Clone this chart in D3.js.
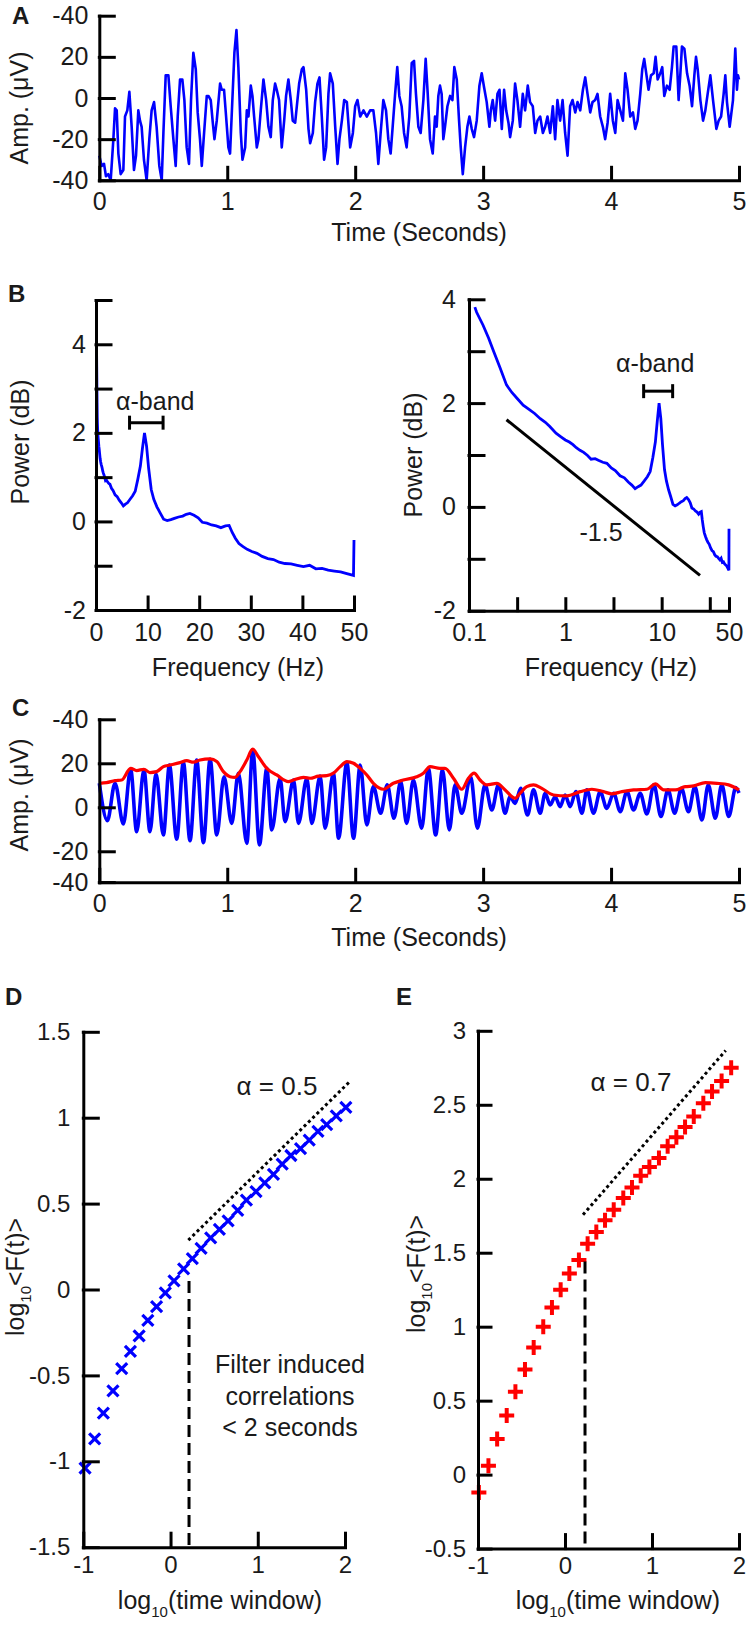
<!DOCTYPE html>
<html>
<head>
<meta charset="utf-8">
<script src="https://cdn.jsdelivr.net/npm/d3@7"></script>
<style>
  body { margin: 0; background: #fff; }
  text { font-family: "Liberation Sans", Arial, sans-serif; fill: #1a1a1a; }
</style>
</head>
<body>
<script>
// ---- panel A: raw EEG trace (s, uV)
var eegTime = [0,0.018,0.037,0.052,0.070,0.089,0.110,0.123,0.136,0.149,0.167,0.188,0.201,0.219,0.235,0.253,0.271,0.287,0.305,0.318,0.331,0.349,0.370,0.391,0.409,0.428,0.448,0.469,0.488,0.501,0.519,0.540,0.558,0.579,0.597,0.613,0.631,0.649,0.665,0.683,0.701,0.717,0.735,0.754,0.769,0.787,0.801,0.819,0.840,0.853,0.871,0.887,0.900,0.918,0.944,0.957,0.975,0.991,1.009,1.022,1.040,1.056,1.072,1.087,1.106,1.119,1.140,1.153,1.166,1.184,1.197,1.210,1.231,1.244,1.262,1.283,1.304,1.322,1.340,1.356,1.374,1.387,1.405,1.426,1.445,1.460,1.478,1.497,1.512,1.531,1.544,1.562,1.583,1.596,1.617,1.635,1.648,1.669,1.687,1.705,1.721,1.739,1.757,1.773,1.791,1.804,1.825,1.844,1.862,1.877,1.896,1.914,1.935,1.961,1.982,2.000,2.018,2.039,2.065,2.091,2.117,
  2.142,2.163,2.181,2.199,2.220,2.241,2.259,2.277,2.293,2.311,2.329,2.345,2.363,2.382,2.402,2.423,2.442,2.460,2.475,2.494,2.512,2.533,2.551,2.567,2.585,2.606,2.624,2.637,2.650,2.663,2.676,2.689,2.702,2.721,2.742,2.760,2.775,2.794,2.812,2.825,2.841,2.859,2.877,2.893,2.911,2.929,2.950,2.971,2.989,3.008,3.028,3.049,3.060,3.075,3.094,3.112,3.128,3.146,3.164,3.180,3.198,3.211,3.232,3.250,3.268,3.289,3.310,3.328,3.349,3.367,3.388,3.407,3.425,3.446,3.467,3.485,3.503,3.524,3.545,3.563,3.581,3.602,3.621,3.641,3.660,3.680,3.699,3.720,3.738,3.759,3.780,3.798,3.816,3.837,3.855,3.876,3.894,3.915,3.936,3.954,3.973,3.993,4.014,4.033,4.051,4.072,4.093,4.111,4.129,4.150,4.171,4.189,4.207,4.228,4.244,4.259,4.275,4.293,4.312,4.333,4.348,4.364,4.385,4.400,4.416,4.437,4.458,4.476,4.489,4.510,4.528,4.541,4.554,4.573,4.594,4.614,4.633,4.651,4.664,4.677,4.698,4.719,4.737,4.755,4.776,4.797,4.823,4.841,4.860,4.880,4.893,4.906,4.927,4.953,4.971,4.984,4.992,5.0];
var eegAmp = [-28,-33,-32,-38,-37,-40,-20,-5,-6,-27,-37,-35,-9,-6,3,-14,-35,-28,-6,-11,-14,-30,-40,-20,-6,-2,-14,-33,-40,-17,11,11,-4,-20,-33,-9,9,9,-1,-24,-32,-1,22,14,-7,-20,-33,-17,1,1,-1,-12,-20,-11,7,4,4,-9,-24,-27,-1,22,33,15,-17,-30,-24,-6,-9,6,1,-9,-24,-20,-6,9,-1,-14,-19,-1,7,4,-1,-24,-11,1,9,-1,-11,-12,-4,7,14,15,4,-15,-22,-17,-2,7,10,-9,-30,-24,2,12,7,-14,-32,-20,-11,-1,-2,-24,-17,-4,-1,-9,-6,-9,-6,
  -6,-17,-32,-17,-1,-6,-20,-27,-14,1,15,1,-4,-17,-24,-9,17,18,2,-14,-17,-1,19,2,-20,-27,-9,-14,1,6,2,-20,-14,-4,1,-1,15,9,-11,-24,-37,-24,-14,-9,-15,-19,-11,6,12,5,-2,-14,-6,-1,-11,2,4,-15,4,-6,-12,-19,-11,7,-1,-14,2,-6,6,-2,-4,-17,-11,-9,-17,-14,-9,-17,-4,-20,-1,-11,-1,-17,-28,-4,-1,-7,-2,-6,4,10,2,-7,-2,-1,2,-9,-14,-20,-12,2,-11,-17,-1,-6,-11,12,4,-9,-7,-15,-11,2,14,19,12,4,11,12,20,9,12,15,1,6,4,15,25,25,-1,11,25,24,12,6,-4,11,20,14,-1,-11,-6,2,11,-1,-15,-11,-9,2,11,-2,-14,-1,24,4,11,9];
var timeTicks = [0, 1, 2, 3, 4, 5];
var ampTicks = [-40, -20, 0, 20, 40];
var ampTickLabels = ["-40", "-20", "0", "20", "-40"];

// ---- panel B: power spectrum
var psdFreq = [0.115,0.12,0.14,0.16,0.18,0.21,0.245,0.28,0.32,0.365,0.42,0.48,0.55,0.62,0.69,0.8,0.9,1.0,1.1,1.2,1.3,1.42,1.55,1.7,1.85,2.04,2.2,2.45,2.7,3.0,3.3,3.7,4.1,4.5,4.9,5.3,5.7,6.1,6.6,7.1,7.6,8.1,8.6,9.0,9.4,9.8,10.2,10.7,11.2,11.8,12.4,13.1,13.8,14.5,15.2,16.0,16.8,17.5,18.2,19.0,19.8,20.6,21.5,22.4,23.3,24.2,25.1,25.8,26.4,27.0,27.7,28.5,29.3,30.2,31.2,32.2,33.3,34.4,35.5,36.6,37.8,39.0,40.2,41.4,42.6,43.8,45.0,46.2,47.4,48.6,49.9,50.0];
var psdPower = [3.85,3.75,3.5,3.25,3.0,2.68,2.35,2.2,2.08,1.96,1.88,1.8,1.7,1.63,1.55,1.42,1.35,1.29,1.25,1.2,1.14,1.09,1.05,0.99,0.92,0.93,0.9,0.86,0.84,0.75,0.7,0.6,0.56,0.48,0.42,0.35,0.39,0.42,0.5,0.58,0.68,0.95,1.25,1.65,2.0,1.7,1.2,0.72,0.5,0.33,0.2,0.05,0.02,0.04,0.07,0.1,0.12,0.16,0.18,0.14,0.08,-0.02,-0.04,-0.08,-0.1,-0.14,-0.1,-0.09,-0.25,-0.38,-0.5,-0.57,-0.63,-0.68,-0.72,-0.79,-0.84,-0.86,-0.92,-0.95,-0.96,-0.99,-1.02,-0.99,-1.07,-1.06,-1.1,-1.12,-1.14,-1.18,-1.22,-0.42];
var alphaBand = [6.5, 13];
var alphaBarPower = 2.23;
var slopeFreq = [0.245, 25];
var slopePower = [1.68, -1.32];
var linFreqTicks = [0, 10, 20, 30, 40, 50];
var logFreqTicks = [0.1, 0.316, 1, 3.16, 10, 31.6, 50];
var logFreqLabels = ["0.1", "", "1", "", "10", "", "50"];
var powerTicksL = [-2, -1, 0, 1, 2, 3, 4, 5];
var powerLabelsL = ["-2", "", "0", "", "2", "", "4", ""];
var powerTicksR = [-2, -1, 0, 1, 2, 3, 4];
var powerLabelsR = ["-2", "", "0", "", "2", "", "4"];

// ---- panel C: alpha-filtered signal and its envelope
var alphaTime = [0,0.063,0.123,0.188,0.245,0.292,0.349,0.396,0.443,0.501,0.548,0.605,0.657,0.709,0.761,0.814,0.866,0.918,0.975,1.035,1.087,1.153,1.199,1.252,1.309,1.348,1.413,1.452,1.518,1.557,1.622,1.661,1.726,1.765,1.830,1.870,1.935,1.987,2.039,2.091,2.142,2.199,2.251,2.303,2.356,2.402,2.455,2.520,2.572,2.629,2.682,2.736,2.781,2.833,2.903,2.955,3.015,3.068,3.120,3.172,3.211,3.250,3.294,3.347,3.394,3.446,3.485,3.524,3.563,3.602,3.641,3.680,3.725,3.772,3.811,3.863,3.915,3.967,4.020,4.072,4.124,4.176,4.228,4.280,4.335,4.390,4.445,4.497,4.550,4.605,4.655,4.710,4.760,4.815,4.865,4.920,4.975,5.0];
var alphaAmp = [10.9,-6.1,10.9,-7.6,17.4,-11.1,17.0,-11.1,15.2,-12.6,19.2,-14.5,20.5,-15.2,21.5,-16.1,21.8,-12.6,13.9,-7.3,15.5,-16.4,26.1,-17.1,17.7,-10.3,13.2,-6.5,12.4,-7.3,13.2,-7.3,14.2,-9.5,15.5,-14.1,20.3,-14.1,19.2,-8.0,9.4,-2.7,10.2,-5.0,11.7,-7.3,12.4,-9.5,17.7,-12.6,17.0,-10.3,10.2,-2.7,13.9,-9.5,10.2,-1.2,10.2,-2.7,4.8,1.8,8.6,-3.5,7.9,-2.7,6.4,1.1,4.8,0.3,5.6,0.3,7.1,-2.7,7.9,-2.7,7.1,-0.5,6.4,-2.0,7.1,-1.2,6.4,-3.0,10.2,-4.2,7.9,-2.7,8.6,-2.0,9.4,-5.8,10.2,-5.0,10.2,-4.2,9.0,6.5];
var envTime = [0,0.057,0.123,0.175,0.245,0.292,0.349,0.396,0.448,0.501,0.553,0.631,0.683,0.735,0.787,0.866,0.918,0.970,1.022,1.061,1.100,1.153,1.199,1.244,1.309,1.387,1.478,1.518,1.596,1.648,1.713,1.778,1.830,1.883,1.935,1.987,2.039,2.091,2.142,2.220,2.298,2.376,2.481,2.533,2.585,2.663,2.702,2.768,2.833,2.885,2.929,2.976,3.028,3.107,3.172,3.250,3.289,3.341,3.394,3.459,3.550,3.654,3.759,3.850,3.941,4.006,4.085,4.176,4.280,4.346,4.411,4.502,4.580,4.646,4.737,4.828,4.919,5.0];
var envAmp = [10.9,11.2,12.1,12.4,17.7,16.7,17.3,15.8,16.2,18.5,19.2,20.3,21.2,20.5,21.5,22.0,20.8,16.2,13.9,13.6,16.2,21.5,26.4,23.0,17.7,14.7,11.7,12.4,13.6,13.2,14.2,14.4,15.5,18.5,20.8,20.0,17.7,14.7,10.9,8.2,10.9,12.4,13.9,15.5,18.5,17.7,17.7,13.2,8.2,13.2,15.5,12.4,10.2,10.9,7.9,4.1,6.4,9.4,10.2,8.6,5.6,5.2,7.1,8.2,7.1,6.1,7.1,7.9,8.2,10.6,7.9,7.9,9.4,9.7,11.2,10.9,10.2,7.9];
var cAmpTicks = [-34, -20, 0, 20, 40];

// ---- panels D and E: DFA fluctuation functions (log10 units)
var dfaWinD = [-0.98,-0.87,-0.77,-0.66,-0.56,-0.46,-0.36,-0.26,-0.16,-0.06,0.04,0.15,0.25,0.35,0.46,0.56,0.66,0.77,0.87,0.98,1.08,1.18,1.28,1.38,1.49,1.59,1.69,1.79,1.90,2.01];
var dfaFluctD = [-1.04,-0.87,-0.72,-0.59,-0.46,-0.36,-0.27,-0.18,-0.10,-0.02,0.05,0.12,0.18,0.24,0.30,0.35,0.40,0.46,0.52,0.57,0.62,0.67,0.73,0.78,0.82,0.87,0.92,0.96,1.01,1.06];
var dfaWinE = [-0.99,-0.88,-0.78,-0.67,-0.57,-0.46,-0.36,-0.25,-0.15,-0.05,0.05,0.16,0.26,0.36,0.46,0.56,0.67,0.77,0.87,0.97,1.08,1.18,1.28,1.38,1.48,1.59,1.69,1.80,1.91];
var dfaFluctE = [-0.12,0.06,0.24,0.40,0.56,0.71,0.86,1.00,1.13,1.25,1.36,1.45,1.56,1.64,1.72,1.79,1.87,1.94,2.02,2.08,2.14,2.22,2.28,2.35,2.42,2.51,2.59,2.66,2.75];
var fitD = [[0.204, 0.287], [2.066, 1.216]];
var fitE = [[0.207, 1.756], [1.847, 2.867]];
var cutD = [0.212, 0.05];
var cutE = [0.23, 1.44];
var dfaXTicks = [-1, 0, 1, 2];
var dfaYTicksD = [-1.5, -1, -0.5, 0, 0.5, 1, 1.5];
var dfaYTicksE = [-0.5, 0, 0.5, 1, 1.5, 2, 2.5, 3];

var width = 746, height = 1626;
var svg = d3.select("body").append("svg")
  .attr("width", width)
  .attr("height", height);

var BLUE = "#0000ff", RED = "#ff0000";

// matlab style axes: left + bottom, ticks pointing inside
function drawAxes(x, y, o) {
  var gx = svg.append("g")
    .attr("transform", "translate(0," + y.range()[0] + ")")
    .call(d3.axisBottom(x).tickValues(o.xt)
      .tickFormat(function(d, i){ return o.xl ? o.xl[i] : String(d); })
      .tickSizeInner(-o.xLen).tickSizeOuter(0).tickPadding(o.xPad));
  var gy = svg.append("g")
    .attr("transform", "translate(" + x.range()[0] + ",0)")
    .call(d3.axisLeft(y).tickValues(o.yt)
      .tickFormat(function(d, i){ return o.yl ? o.yl[i] : String(d); })
      .tickSizeInner(-o.yLen).tickSizeOuter(0).tickPadding(o.yPad));
  [gx, gy].forEach(function(g) {
    g.selectAll("path, line").attr("stroke", "#000").attr("stroke-width", 3)
      .attr("stroke-linecap", "square");
    g.selectAll("text").attr("font-size", o.fs).attr("fill", "#1a1a1a")
      .style("font-family", '"Liberation Sans", Arial, sans-serif');
  });
}

function text(x, y, str, fs, anchor, extra) {
  var t = svg.append("text").attr("x", x).attr("y", y)
    .attr("font-size", fs).attr("text-anchor", anchor || "middle").text(str);
  if (extra) t.attr("font-weight", extra);
  return t;
}

function vtext(cx, cy, str, fs) {
  return svg.append("text")
    .attr("transform", "translate(" + cx + "," + cy + ") rotate(-90)")
    .attr("font-size", fs).attr("text-anchor", "middle")
    .attr("dy", "0.35em").text(str);
}

// ================= A
var xA = d3.scaleLinear().domain([0, 5]).range([99.3, 739]);
var yA = d3.scaleLinear().domain([-40, 40]).range([180.3, 15.7]);
svg.append("path")
  .datum(d3.zip(eegTime, eegAmp))
  .attr("fill", "none").attr("stroke", BLUE).attr("stroke-width", 2.6)
  .attr("stroke-linejoin", "round")
  .attr("d", d3.line().x(function(d){ return xA(d[0]); }).y(function(d){ return yA(d[1]); }));
drawAxes(xA, yA, {xt: timeTicks, yt: ampTicks, yl: ampTickLabels, xLen: 13, yLen: 15, xPad: 12, yPad: 11, fs: 25});
text(12, 24, "A", 24, "start", "bold");
text(419, 241, "Time (Seconds)", 25);
vtext(19, 108, "Amp. (\u03bcV)", 25);

// ================= B left (linear)
var xBL = d3.scaleLinear().domain([0, 50]).range([96, 354]);
var yBL = d3.scaleLinear().domain([-2, 5]).range([610, 300]);
var psd = d3.zip(psdFreq, psdPower);
svg.append("path").datum(psd)
  .attr("fill", "none").attr("stroke", BLUE).attr("stroke-width", 2.8)
  .attr("d", d3.line().x(function(d){ return xBL(d[0]); }).y(function(d){ return yBL(d[1]); }));
drawAxes(xBL, yBL, {xt: linFreqTicks, yt: powerTicksL, yl: powerLabelsL, xLen: 13, yLen: 15, xPad: 13, yPad: 10, fs: 25});

function bracket(x, yv, f0, f1) {
  var g = svg.append("g").attr("stroke", "#000").attr("stroke-width", 3);
  var yy = yv(alphaBarPower);
  g.append("line").attr("x1", x(f0)).attr("x2", x(f1)).attr("y1", yy).attr("y2", yy);
  [f0, f1].forEach(function(f) {
    g.append("line").attr("x1", x(f)).attr("x2", x(f)).attr("y1", yy - 7).attr("y2", yy + 7);
  });
  return yy;
}
var bl = bracket(xBL, yBL, alphaBand[0], alphaBand[1]);
text((xBL(alphaBand[0]) + xBL(alphaBand[1])) / 2 + 9, bl - 13, "\u03b1-band", 25);
text(8, 302, "B", 24, "start", "bold");
text(238, 676, "Frequency (Hz)", 25);
vtext(20, 442, "Power (dB)", 25);

// ================= B right (log)
var xBR = d3.scaleLog().domain([0.1, 50]).range([469, 729]);
var yBR = d3.scaleLinear().domain([-2, 4]).range([610.7, 299.3]);
svg.append("path").datum(psd)
  .attr("fill", "none").attr("stroke", BLUE).attr("stroke-width", 2.8)
  .attr("d", d3.line().x(function(d){ return xBR(d[0]); }).y(function(d){ return yBR(d[1]); }));
svg.append("line")
  .attr("x1", xBR(slopeFreq[0])).attr("y1", yBR(slopePower[0]))
  .attr("x2", xBR(slopeFreq[1])).attr("y2", yBR(slopePower[1]))
  .attr("stroke", "#000").attr("stroke-width", 3);
drawAxes(xBR, yBR, {xt: logFreqTicks, xl: logFreqLabels, yt: powerTicksR, yl: powerLabelsR, xLen: 12, yLen: 15, xPad: 13, yPad: 13, fs: 25});
var br = bracket(xBR, yBR, alphaBand[0], alphaBand[1]);
text((xBR(alphaBand[0]) + xBR(alphaBand[1])) / 2 - 3, br - 19, "\u03b1-band", 25);
text(601, 541, "-1.5", 25);
text(611, 676, "Frequency (Hz)", 25);
vtext(413, 455, "Power (dB)", 25);

// ================= C
var xC = d3.scaleLinear().domain([0, 5]).range([99.3, 739]);
var yC = d3.scaleLinear().domain([-34.1, 40]).range([882.3, 719.3]);
svg.append("path").datum(d3.zip(alphaTime, alphaAmp))
  .attr("fill", "none").attr("stroke", BLUE).attr("stroke-width", 3.6)
  .attr("d", d3.line().curve(d3.curveMonotoneX)
    .x(function(d){ return xC(d[0]); }).y(function(d){ return yC(d[1]); }));
svg.append("path").datum(d3.zip(envTime, envAmp))
  .attr("fill", "none").attr("stroke", RED).attr("stroke-width", 3.2)
  .attr("d", d3.line().curve(d3.curveMonotoneX)
    .x(function(d){ return xC(d[0]); }).y(function(d){ return yC(d[1]); }));
drawAxes(xC, yC, {xt: timeTicks, yt: cAmpTicks, yl: ampTickLabels, xLen: 13, yLen: 15, xPad: 12, yPad: 11, fs: 25});
text(12, 716, "C", 24, "start", "bold");
text(419, 946, "Time (Seconds)", 25);
vtext(19, 795, "Amp. (\u03bcV)", 25);

// ================= D / E
function dfaPanel(x, y, win, fl, marker, color, fit, cut, o) {
  var pts = d3.zip(win, fl);
  var s = o.size;
  var g = svg.append("g").attr("stroke", color).attr("stroke-width", o.sw).attr("fill", "none");
  g.selectAll("path").data(pts).enter().append("path")
    .attr("transform", function(d){ return "translate(" + x(d[0]) + "," + y(d[1]) + ")"; })
    .attr("d", marker == "x"
      ? "M" + (-s) + "," + (-s) + "L" + s + "," + s + "M" + (-s) + "," + s + "L" + s + "," + (-s)
      : "M" + (-s) + ",0H" + s + "M0," + (-s) + "V" + s);
  svg.append("line")
    .attr("x1", x(fit[0][0])).attr("y1", y(fit[0][1]))
    .attr("x2", x(fit[1][0])).attr("y2", y(fit[1][1]))
    .attr("stroke", "#000").attr("stroke-width", 3).attr("stroke-dasharray", "3,3");
  svg.append("line")
    .attr("x1", x(cut[0])).attr("x2", x(cut[0]))
    .attr("y1", y(cut[1])).attr("y2", y.range()[0])
    .attr("stroke", "#000").attr("stroke-width", 3).attr("stroke-dasharray", "12,6");
  drawAxes(x, y, {xt: dfaXTicks, yt: o.yt, xLen: 14, yLen: o.yLen, xPad: o.xPad, yPad: o.yPad, fs: 24});
}

function log10Label(cx, cy, rest, fs, rotate) {
  var t = svg.append("text").attr("font-size", fs).attr("text-anchor", "middle");
  if (rotate) t.attr("transform", "translate(" + cx + "," + cy + ") rotate(-90)").attr("dy", "0.35em");
  else t.attr("x", cx).attr("y", cy);
  t.append("tspan").text("log");
  t.append("tspan").attr("font-size", fs * 0.6).attr("dy", fs * 0.3).text("10");
  t.append("tspan").attr("dy", -fs * 0.3).text(rest);
  return t;
}

var xD = d3.scaleLinear().domain([-1, 2]).range([83.3, 345]);
var yD = d3.scaleLinear().domain([-1.5, 1.5]).range([1547.2, 1031.8]);
dfaPanel(xD, yD, dfaWinD, dfaFluctD, "x", BLUE, fitD, cutD, {size: 5.5, sw: 3.2, yt: dfaYTicksD, yLen: 15, xPad: 9, yPad: 13});
text(5, 1005, "D", 24, "start", "bold");
text(277, 1095, "\u03b1 = 0.5", 26);
text(290, 1373, "Filter induced", 25);
text(290, 1405, "correlations", 25);
text(290, 1436, "< 2 seconds", 25);
log10Label(220, 1609, "(time window)", 25, false);
log10Label(15, 1277, "<F(t)>", 25, true);

var xE = d3.scaleLinear().domain([-1, 2]).range([478, 739]);
var yE = d3.scaleLinear().domain([-0.5, 3]).range([1548.6, 1030.8]);
dfaPanel(xE, yE, dfaWinE, dfaFluctE, "+", RED, fitE, cutE, {size: 7.5, sw: 4, yt: dfaYTicksE, yLen: 13, xPad: 8, yPad: 12});
text(396, 1005, "E", 24, "start", "bold");
text(631, 1091, "\u03b1 = 0.7", 26);
log10Label(618, 1609, "(time window)", 25, false);
log10Label(416, 1274, "<F(t)>", 25, true);
</script>
</body>
</html>
